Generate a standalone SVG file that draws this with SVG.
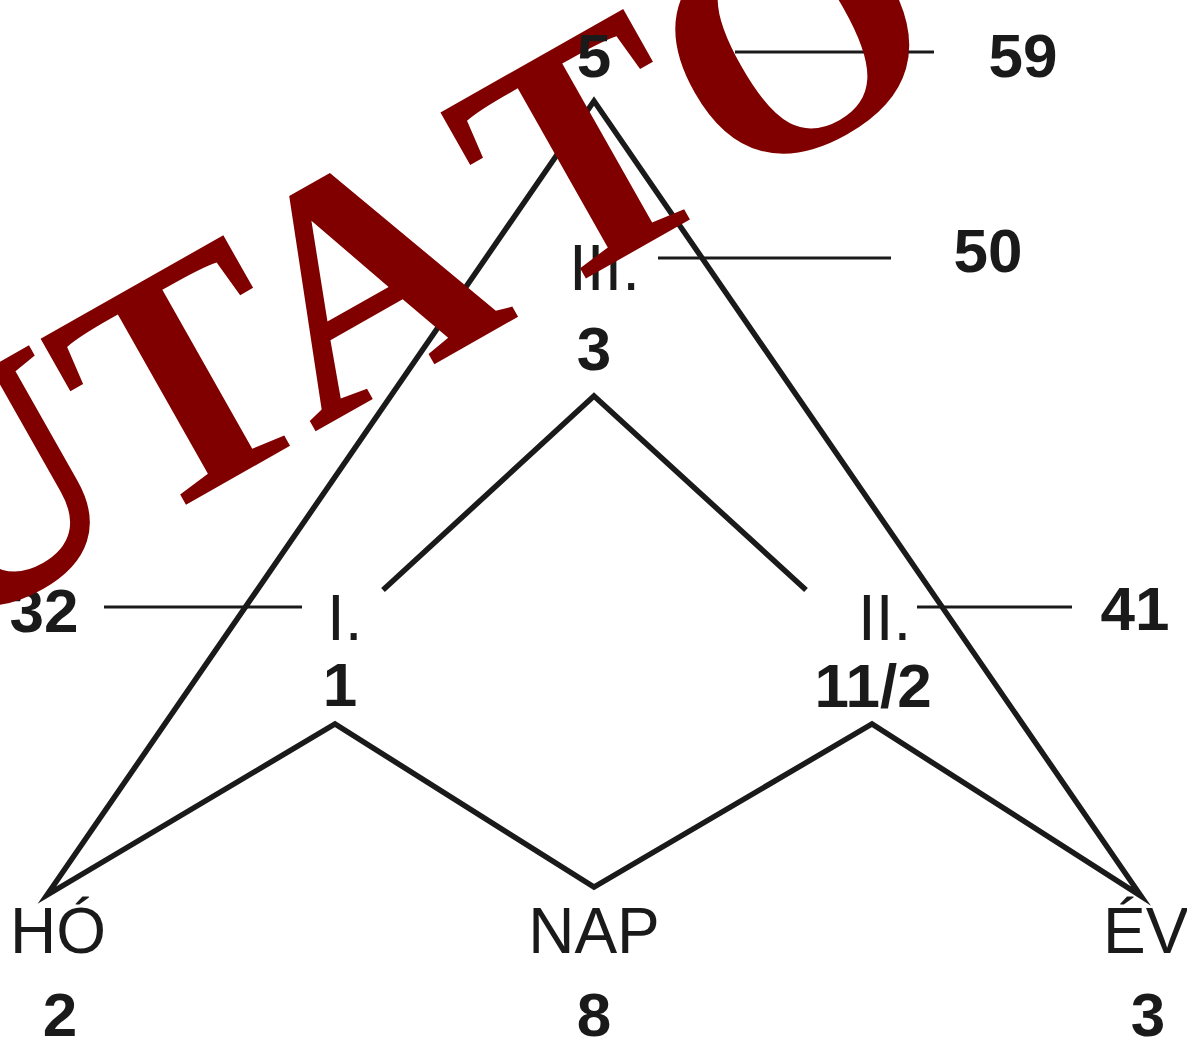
<svg xmlns="http://www.w3.org/2000/svg" width="1187" height="1042" viewBox="0 0 1187 1042">
<style>
.lbl{font-family:"Liberation Sans",Arial,sans-serif;font-size:64px;fill:#1a1a1a}
.num{font-family:"Liberation Sans",Arial,sans-serif;font-size:62px;font-weight:bold;fill:#1a1a1a}
.c{text-anchor:middle}
.thick{fill:none;stroke:#1a1a1a;stroke-width:5.5;stroke-miterlimit:14;stroke-linejoin:miter}
.thin{fill:none;stroke:#1a1a1a;stroke-width:3}
.wm{font-family:"Liberation Serif","Times New Roman",serif;font-weight:bold;font-size:330px;fill:#800000}
</style>
<rect width="1187" height="1042" fill="#ffffff"/>
<g id="connectors">
<polygon class="thick" points="594,101 47,895 335,724 594,887 872,724 1141,896"/>
<polyline class="thick" points="383,590 594,396 806,590"/>
<line class="thin" x1="735" y1="52" x2="934" y2="52"/>
<line class="thin" x1="658" y1="258" x2="891" y2="258"/>
<line class="thin" x1="104" y1="607" x2="302" y2="607"/>
<line class="thin" x1="917" y1="607" x2="1072" y2="607"/>
</g>
<g id="node-III">
<text class="lbl" x="569" y="290">III.</text>
<text class="num c" x="594" y="370">3</text>
<text class="num c" x="988" y="272">50</text>
</g>
<g id="node-I">
<text class="lbl" x="327" y="640">I.</text>
<text class="num c" x="340" y="706">1</text>
<text class="num c" x="44" y="632">32</text>
</g>
<g id="node-II">
<text class="lbl" x="858" y="640">II.</text>
<text class="num c" x="873" y="707">11/2</text>
<text class="num c" x="1135" y="630">41</text>
</g>
<g id="node-HO">
<text class="lbl" x="10" y="953">HÓ</text>
<text class="num c" x="60" y="1036">2</text>
</g>
<g id="node-NAP">
<text class="lbl c" x="594" y="953">NAP</text>
<text class="num c" x="594" y="1036">8</text>
</g>
<g id="node-EV">
<text class="lbl" x="1103" y="953">ÉV</text>
<text class="num c" x="1148" y="1036">3</text>
</g>
<g id="watermark">
<text class="wm" transform="translate(-336,800) rotate(-29.5)">MUTA<tspan dx="50">TÓ</tspan></text>
</g>
<g id="node-top">
<text class="num c" x="594" y="77">5</text>
<text class="num c" x="1023" y="77">59</text>
</g>
</svg>
